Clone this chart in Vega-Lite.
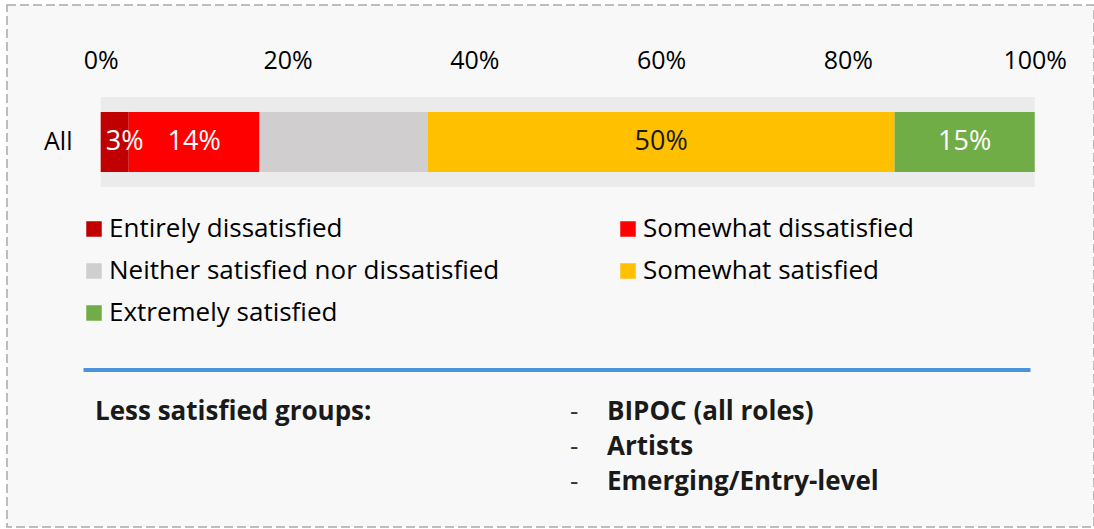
{
  "$schema": "https://vega.github.io/schema/vega-lite/v6.json",
  "width": 1087,
  "height": 522,
  "autosize": {"type": "none"},
  "padding": {"left": 7, "top": 5, "right": 0, "bottom": 2},
  "background": "#ffffff",
  "config": {
    "font": "Open Sans",
    "view": {"fill": "#f8f8f8", "stroke": "#a9a9a9", "strokeDash": [9, 4], "strokeWidth": 1.5}
  },
  "datasets": {
    "survey": [
      {"group": "All", "category": "Entirely dissatisfied", "pct": 3, "rank": 1, "label": "3%"},
      {"group": "All", "category": "Somewhat dissatisfied", "pct": 14, "rank": 2, "label": "14%"},
      {"group": "All", "category": "Neither satisfied nor dissatisfied", "pct": 18, "rank": 3, "label": ""},
      {"group": "All", "category": "Somewhat satisfied", "pct": 50, "rank": 4, "label": "50%"},
      {"group": "All", "category": "Extremely satisfied", "pct": 15, "rank": 5, "label": "15%"}
    ],
    "gridticks": [{"tick": 20}, {"tick": 40}, {"tick": 60}, {"tick": 80}],
    "notes": [
      {"col": "head", "row": 1, "text": "Less satisfied groups:"},
      {"col": "list", "row": 1, "text": "BIPOC (all roles)"},
      {"col": "list", "row": 2, "text": "Artists"},
      {"col": "list", "row": 3, "text": "Emerging/Entry-level"}
    ]
  },
  "layer": [
    {
      "data": {"name": "survey"},
      "encoding": {
        "y": {
          "field": "group", "type": "nominal",
          "scale": {"domain": ["All"], "range": [92, 182], "paddingInner": 0, "paddingOuter": 0},
          "axis": {"title": null, "orient": "left", "offset": -93.7, "domain": false, "ticks": false, "tickSize": 0, "labelPadding": 28.7, "labelFontSize": 25, "labelColor": "#000000", "grid": false}
        }
      },
      "layer": [
        {
          "mark": {"type": "bar", "color": "#ebebeb"},
          "encoding": {
            "x": {
              "aggregate": "sum", "field": "pct", "type": "quantitative",
              "scale": {"domain": [0, 100], "range": [93.7, 1027.7], "nice": false, "zero": true},
              "axis": {"title": null, "orient": "top", "offset": -92, "values": [0, 20, 40, 60, 80, 100], "labelExpr": "datum.value + '%'", "domain": false, "ticks": false, "tickSize": 0, "grid": false, "labelPadding": 24, "labelFontSize": 25, "labelColor": "#000000", "labelFlush": false, "labelOverlap": false}
            }
          }
        },
        {
          "data": {"name": "gridticks"},
          "mark": {"type": "rule", "color": "#d6d6d6", "strokeWidth": 1},
          "encoding": {
            "x": {"field": "tick", "type": "quantitative"},
            "y": {"datum": "All", "type": "nominal"}
          }
        },
        {
          "mark": {"type": "bar", "height": {"band": 0.6667}},
          "encoding": {
            "x": {"field": "pct", "type": "quantitative", "stack": "zero"},
            "color": {
              "field": "category", "type": "nominal",
              "scale": {
                "domain": ["Entirely dissatisfied", "Somewhat dissatisfied", "Neither satisfied nor dissatisfied", "Somewhat satisfied", "Extremely satisfied"],
                "range": ["#c00000", "#ff0000", "#d0cece", "#ffc000", "#70ad47"]
              },
              "legend": {"orient": "none", "legendX": 74, "legendY": 211, "columns": 2, "direction": "horizontal", "title": null, "symbolType": "square", "symbolSize": 240, "symbolStrokeWidth": 0, "symbolOpacity": 1, "labelFontSize": 26, "labelColor": "#000000", "labelOffset": 2, "rowPadding": 16, "columnPadding": 115, "labelLimit": 600, "padding": 0}
            },
            "order": {"field": "rank", "type": "quantitative"}
          }
        },
        {
          "mark": {"type": "text", "fontSize": 27},
          "encoding": {
            "x": {"field": "pct", "type": "quantitative", "stack": "zero", "bandPosition": 0.5},
            "detail": {"field": "category", "type": "nominal"},
            "order": {"field": "rank", "type": "quantitative"},
            "text": {"field": "label", "type": "nominal", "condition": {"test": "datum.pct < 5", "value": ""}},
            "color": {"condition": {"test": "datum.category === 'Somewhat satisfied'", "value": "#1a1a1a"}, "value": "#ffffff"}
          }
        },
        {
          "transform": [{"filter": "datum.pct < 5"}],
          "mark": {"type": "text", "fontSize": 27, "color": "#ffffff", "dx": -4},
          "encoding": {
            "x": {"field": "pct", "type": "quantitative"},
            "text": {"field": "label", "type": "nominal"}
          }
        }
      ]
    },
    {
      "data": {"name": "notes"},
      "encoding": {
        "x": {
          "field": "col", "type": "nominal", "bandPosition": 0,
          "scale": {"type": "band", "domain": ["head", "list"], "range": [76, 1023], "paddingInner": 0, "paddingOuter": 0},
          "axis": {"orient": "top", "offset": -364.5, "title": null, "labels": false, "ticks": false, "grid": false, "domain": true, "domainColor": "#4a94dc", "domainWidth": 4}
        },
        "y": {
          "field": "row", "type": "ordinal",
          "scale": {"type": "point", "domain": [1, 2, 3], "range": [407, 477], "padding": 0},
          "axis": null
        }
      },
      "layer": [
        {
          "transform": [{"filter": "datum.col === 'head'"}],
          "mark": {"type": "text", "align": "left", "dx": 12, "fontSize": 26, "fontWeight": "bold", "color": "#1a1a1a"},
          "encoding": {"text": {"field": "text", "type": "nominal"}}
        },
        {
          "transform": [{"filter": "datum.col === 'list'"}],
          "mark": {"type": "text", "align": "left", "dx": 13.5, "fontSize": 26, "color": "#333333"},
          "encoding": {"text": {"value": "-"}}
        },
        {
          "transform": [{"filter": "datum.col === 'list'"}],
          "mark": {"type": "text", "align": "left", "dx": 50.5, "fontSize": 26, "fontWeight": "bold", "color": "#1a1a1a"},
          "encoding": {"text": {"field": "text", "type": "nominal"}}
        }
      ]
    }
  ],
  "resolve": {"scale": {"x": "independent", "y": "independent"}}
}
